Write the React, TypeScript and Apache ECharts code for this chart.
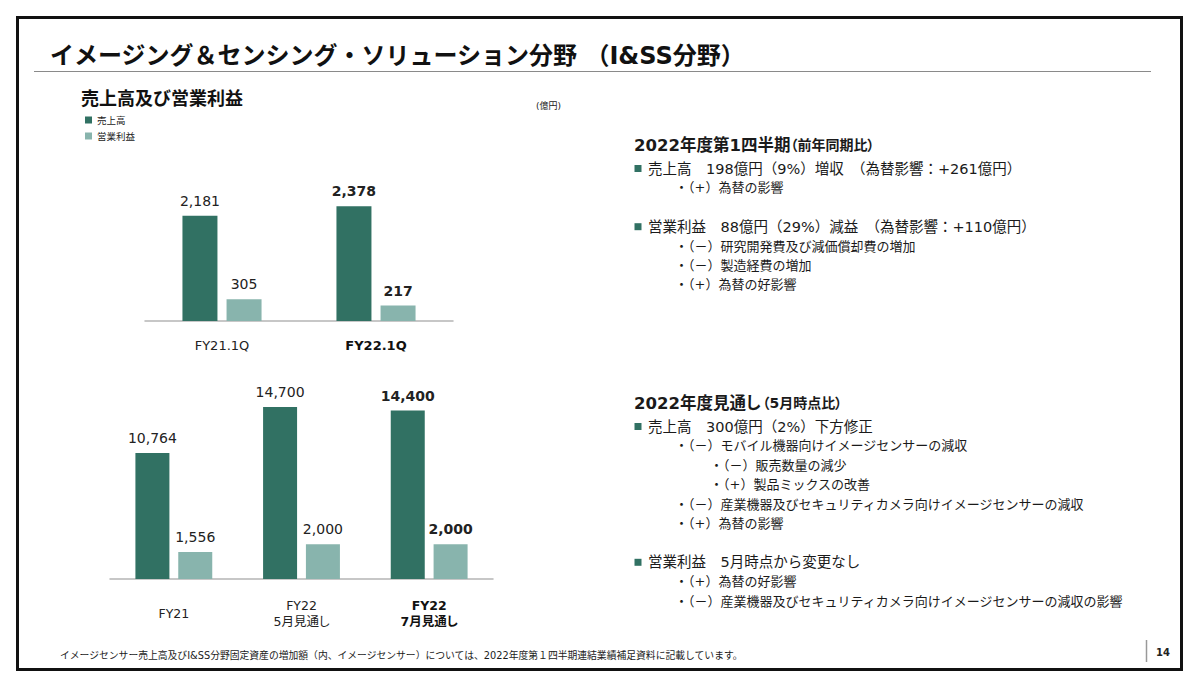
import React, { useEffect, useRef } from 'react';
import * as echarts from 'echarts';

// ---- chart data ----
const seriesNames = ['売上高', '営業利益'];
const quarterCategories = ['FY21.1Q', 'FY22.1Q'];
const quarterSales = [2181, 2378];
const quarterProfit = [305, 217];
const yearCategories = ['FY21', 'FY22\n5月見通し', 'FY22\n7月見通し'];
const yearSales = [10764, 14700, 14400];
const yearProfit = [1556, 2000, 2000];

// ---- texts ----
const titleText = 'イメージング＆センシング・ソリューション分野 （I&SS分野）';
const subtitleText = '売上高及び営業利益';
const unitText = '(億円)';
const footerText = 'イメージセンサー売上高及びI&SS分野固定資産の増加額（内、イメージセンサー）については、2022年度第１四半期連結業績補足資料に記載しています。';
const pageNumber = '14';

const block1Heading = '2022年度第1四半期';
const block1Note = '（前年同期比）';
const block1Lines: [number, string][] = [
  [0, '売上高　198億円（9%）増収　（為替影響：+261億円）'],
  [1, '・（+）為替の影響'],
  [-1, ''],
  [0, '営業利益　88億円（29%）減益　（為替影響：+110億円）'],
  [1, '・（－）研究開発費及び減価償却費の増加'],
  [1, '・（－）製造経費の増加'],
  [1, '・（+）為替の好影響'],
];
const block2Heading = '2022年度見通し';
const block2Note = '（5月時点比）';
const block2Lines: [number, string][] = [
  [0, '売上高　300億円（2%）下方修正'],
  [1, '・（－）モバイル機器向けイメージセンサーの減収'],
  [2, '・（－）販売数量の減少'],
  [2, '・（+）製品ミックスの改善'],
  [1, '・（－）産業機器及びセキュリティカメラ向けイメージセンサーの減収'],
  [1, '・（+）為替の影響'],
  [-1, ''],
  [0, '営業利益　5月時点から変更なし'],
  [1, '・（+）為替の好影響'],
  [1, '・（－）産業機器及びセキュリティカメラ向けイメージセンサーの減収の影響'],
];

const DARK = '#317163';
const LIGHT = '#88b4ad';
const TXT = '#1a1a1a';
const JP = '"DejaVu Sans", "Noto Sans CJK JP", sans-serif';
const NUM = '"DejaVu Sans", "Noto Sans CJK JP", sans-serif';

function textEl(x: number, y: number, text: string, font: string, extra: any = {}) {
  return {
    type: 'text',
    x,
    y,
    silent: true,
    style: {
      text,
      font,
      fill: TXT,
      align: 'left',
      verticalAlign: 'middle',
      textAlign: 'left',
      textVerticalAlign: 'middle',
      ...extra,
    },
  };
}

function buildBlock(headY: number, heading: string, note: string, lines: [number, string][]) {
  const els: any[] = [];
  els.push({
    type: 'text',
    x: 634,
    y: headY,
    silent: true,
    style: {
      text: `{h|${heading}}{n|${note}}`,
      align: 'left',
      verticalAlign: 'middle',
      textAlign: 'left',
      textVerticalAlign: 'middle',
      rich: {
        h: { fontSize: 16.5, fontWeight: 'bold', fontFamily: JP, fill: TXT, color: TXT },
        n: { fontSize: 14, fontWeight: 'bold', fontFamily: JP, fill: TXT, color: TXT },
      },
    },
  });
  const step = 19.4;
  let y = headY + 23.5;
  lines.forEach(([level, text]) => {
    if (level === 0) {
      els.push({
        type: 'rect',
        silent: true,
        shape: { x: 634.5, y: y - 3.5, width: 7, height: 7 },
        style: { fill: DARK },
      });
      els.push(textEl(648, y, text, `14.5px ${JP}`));
    } else if (level > 0) {
      els.push(textEl(level === 1 ? 675 : 710, y, text, `13px ${JP}`));
    }
    y += step;
  });
  return els;
}

const barLabel = {
  show: true,
  position: 'top',
  distance: 8,
  fontSize: 14,
  fontFamily: NUM,
  color: '#222',
  formatter: (p: any) => Number(p.value).toLocaleString('en-US'),
};

function boldLast(values: number[]) {
  return values.map((v, i) => ({
    value: v,
    label: i === values.length - 1 ? { fontWeight: 'bold' } : { fontWeight: 'normal' },
  }));
}

function axisFormatter(count: number) {
  return (v: string, i: number) =>
    v
      .split('\n')
      .map((s) => `{${i === count - 1 ? 'b' : 'n'}|${s}}`)
      .join('\n');
}

export default function App() {
  const ref = useRef<HTMLDivElement>(null);

  useEffect(() => {
    document.body.style.margin = '0';
    const chart = echarts.init(ref.current!, null, { renderer: 'svg' });

    const graphics: any[] = [
      {
        type: 'rect',
        silent: true,
        z: 10,
        shape: { x: 17.5, y: 17.5, width: 1164, height: 652 },
        style: { fill: 'none', stroke: '#111', lineWidth: 3 },
      },
      {
        type: 'line',
        silent: true,
        shape: { x1: 34, y1: 71.5, x2: 1151, y2: 71.5 },
        style: { stroke: '#8a8a8a', lineWidth: 1 },
      },
      textEl(50, 56, titleText, `bold 24px ${JP}`, { fill: '#111' }),
      textEl(81, 98, subtitleText, `bold 18px ${JP}`, { fill: '#111' }),
      textEl(536, 106, unitText, `9px ${JP}`),
      textEl(60, 655, footerText, `9.8px ${JP}`),
      {
        type: 'line',
        silent: true,
        shape: { x1: 1146.5, y1: 640, x2: 1146.5, y2: 662 },
        style: { stroke: '#999', lineWidth: 1.5 },
      },
      textEl(1156, 652, pageNumber, `bold 10px ${NUM}`, { fill: '#222' }),
      ...buildBlock(145, block1Heading, block1Note, block1Lines),
      ...buildBlock(403, block2Heading, block2Note, block2Lines),
    ];

    const axisLine = { show: true, lineStyle: { color: '#b5b5b5', width: 1.5 } };
    const hiddenY = (max: number, gridIndex: number) => ({
      type: 'value',
      gridIndex,
      min: 0,
      max,
      show: false,
      splitLine: { show: false },
    });

    chart.setOption({
      animation: false,
      backgroundColor: '#ffffff',
      legend: {
        data: seriesNames,
        left: 85,
        top: 115,
        orient: 'vertical',
        icon: 'rect',
        itemWidth: 7,
        itemHeight: 7,
        itemGap: 6,
        padding: 0,
        selectedMode: false,
        textStyle: { fontSize: 9.5, lineHeight: 10, fontFamily: JP, color: '#222' },
      },
      grid: [
        { left: 145, top: 128, width: 308, height: 193 },
        { left: 110, top: 345, width: 383, height: 234 },
      ],
      xAxis: [
        {
          type: 'category',
          gridIndex: 0,
          data: quarterCategories,
          axisLine,
          axisTick: { show: false },
          axisLabel: {
            margin: 16,
            formatter: axisFormatter(quarterCategories.length),
            rich: {
              n: { fontSize: 13, fontFamily: NUM, color: '#222', lineHeight: 16 },
              b: { fontSize: 13, fontFamily: NUM, color: '#111', fontWeight: 'bold', lineHeight: 16 },
            },
          },
        },
        {
          type: 'category',
          gridIndex: 1,
          data: yearCategories,
          axisLine,
          axisTick: { show: false },
          axisLabel: {
            margin: 34,
            verticalAlign: 'middle',
            formatter: axisFormatter(yearCategories.length),
            rich: {
              n: { fontSize: 12.5, fontFamily: NUM, color: '#222', lineHeight: 16 },
              b: { fontSize: 12.5, fontFamily: NUM, color: '#111', fontWeight: 'bold', lineHeight: 16 },
            },
          },
        },
      ],
      yAxis: [hiddenY(4000, 0), hiddenY(2700, 0), hiddenY(20000, 1), hiddenY(13470, 1)],
      series: [
        {
          type: 'bar',
          name: seriesNames[0],
          xAxisIndex: 0,
          yAxisIndex: 0,
          data: boldLast(quarterSales),
          barWidth: 35,
          barGap: '26%',
          itemStyle: { color: DARK },
          label: barLabel,
        },
        {
          type: 'bar',
          name: seriesNames[1],
          xAxisIndex: 0,
          yAxisIndex: 1,
          data: boldLast(quarterProfit),
          barWidth: 35,
          barGap: '26%',
          itemStyle: { color: LIGHT },
          label: barLabel,
        },
        {
          type: 'bar',
          name: seriesNames[0],
          xAxisIndex: 1,
          yAxisIndex: 2,
          data: boldLast(yearSales),
          barWidth: 34,
          barGap: '26%',
          itemStyle: { color: DARK },
          label: barLabel,
        },
        {
          type: 'bar',
          name: seriesNames[1],
          xAxisIndex: 1,
          yAxisIndex: 3,
          data: boldLast(yearProfit),
          barWidth: 34,
          barGap: '26%',
          itemStyle: { color: LIGHT },
          label: barLabel,
        },
      ],
      graphic: { elements: graphics },
    });

    return () => chart.dispose();
  }, []);

  return (
    <>
      <style>{`svg text { font-feature-settings: "palt" 1; }`}</style>
      <div ref={ref} style={{ width: 1200, height: 688, background: '#fff' }} />
    </>
  );
}
